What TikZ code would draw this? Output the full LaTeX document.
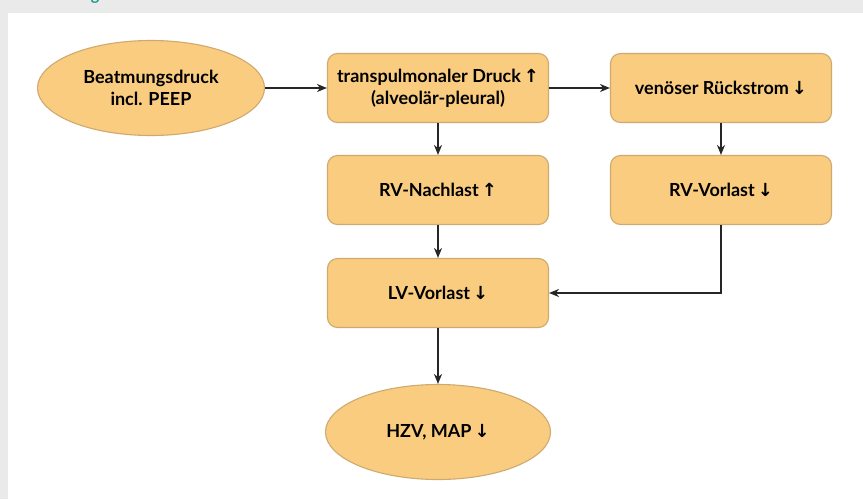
\documentclass[tikz,border=0pt]{standalone}
\usepackage{fontspec}
\setmainfont{Lato}
\newfontfamily\pfeilfont{DejaVu Sans}
\usetikzlibrary{shapes.geometric,arrows.meta}
\definecolor{boxfill}{HTML}{F9CC80}
\definecolor{boxrand}{HTML}{CFA96E}
\definecolor{rahmen}{HTML}{EAEAEA}
\definecolor{titel}{HTML}{1A9A8C}
\newcommand{\hoch}{\,{\pfeilfont\fontsize{18}{20}\selectfont ↑}}
\newcommand{\runter}{\,{\pfeilfont\fontsize{18}{20}\selectfont ↓}}
\tikzset{
	kasten/.style={draw=boxrand, fill=boxfill, line width=1.1pt, rounded corners=10pt, minimum width=221pt, minimum height=69pt, align=center, font=\fontsize{18}{22}\selectfont\bfseries},
	oval/.style={ellipse, draw=boxrand, fill=boxfill, line width=1.1pt, minimum width=227pt, minimum height=95pt, inner sep=0pt, align=center, font=\fontsize{18}{22}\selectfont\bfseries},
	pfeil/.style={-{Stealth[length=10pt,width=8pt]}, line width=1.9pt, black!85}
}
\begin{document}
\begin{tikzpicture}[x=1pt,y=-1pt]
		%%%%% START %%%%%
		\useasboundingbox (0,0) rectangle (863,499);
		\fill[rahmen] (0,0) rectangle (863,499);
		\fill[white] (8,13) rectangle (863,499);
		
		\begin{scope}
			\clip (0,0) rectangle (863,13);
			\node[anchor=base, text=titel, font=\fontsize{16}{20}\selectfont\bfseries] (titelrest) at (95,0) {g};
		\end{scope}
		
		\node[oval] (beatmung) at (151,88) {Beatmungsdruck\\incl. PEEP};
		\node[kasten] (transpul) at (438,88) {transpulmonaler Druck\hoch\\(alveolär-pleural)};
		\node[kasten] (venoes) at (721,88) {venöser Rückstrom\runter};
		
		\node[kasten] (rvnach) at (438,190) {RV-Nachlast\hoch};
		\node[kasten] (rvvor) at (721,190) {RV-Vorlast\runter};
		
		\node[kasten] (lvvor) at (438,293) {LV-Vorlast\runter};
		\node[oval, minimum width=225pt] (hzv) at (438,432) {HZV, MAP\runter};
		
		\draw[pfeil] (beatmung.east) -- (transpul.west);
		\draw[pfeil] (transpul.east) -- (venoes.west);
		\draw[pfeil] (transpul.south) -- (rvnach.north);
		\draw[pfeil] (venoes.south) -- (rvvor.north);
		\draw[pfeil] (rvnach.south) -- (lvvor.north);
		\draw[pfeil] (rvvor.south) |- (lvvor.east);
		\draw[pfeil] (lvvor.south) -- (hzv.north);
		
		%%%%% END %%%%%
	\end{tikzpicture}
\end{document}
